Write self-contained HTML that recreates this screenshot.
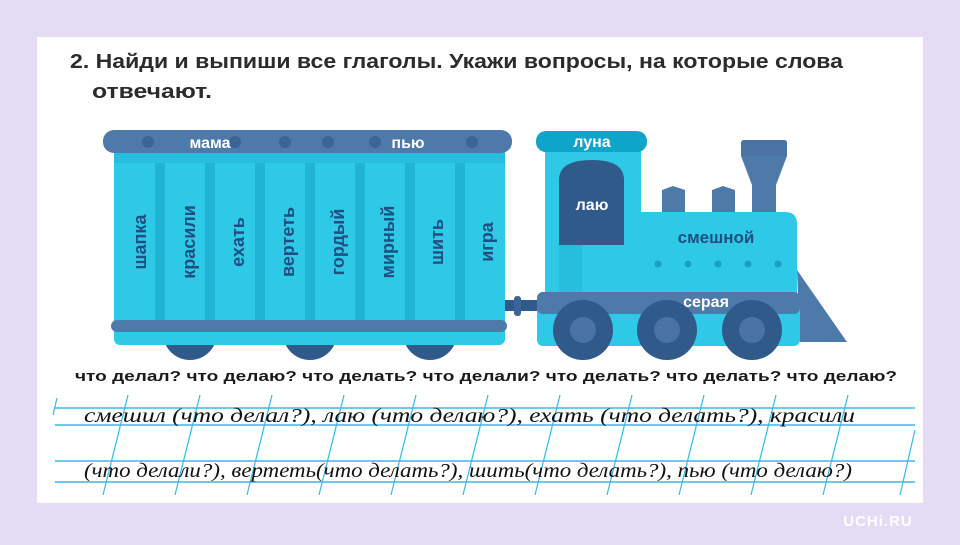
<!DOCTYPE html>
<html><head><meta charset="utf-8"><style>
body{margin:0;width:960px;height:540px;background:#e3dcf4;overflow:hidden;font-family:"Liberation Sans",sans-serif}
</style></head><body>
<svg width="960" height="540" viewBox="0 0 960 540" xmlns="http://www.w3.org/2000/svg" font-family="Liberation Sans, DejaVu Sans, sans-serif">
<rect x="37" y="37" width="886" height="466" fill="#fff"/>
<text x="70" y="68" font-size="20" font-weight="bold" fill="#2b2b2b" textLength="773" lengthAdjust="spacingAndGlyphs">2. Найди и выпиши все глаголы. Укажи вопросы, на которые слова</text>
<text x="92" y="98" font-size="20" font-weight="bold" fill="#2b2b2b" textLength="120" lengthAdjust="spacingAndGlyphs">отвечают.</text>
<!-- wagon -->
<g fill="#2f5a8a"><circle cx="190" cy="333" r="27"/><circle cx="310" cy="333" r="27"/><circle cx="430" cy="333" r="27"/></g>
<rect x="114" y="145" width="391" height="200" rx="6" fill="#2ec9e6"/>
<rect x="114" y="153" width="391" height="10" fill="#27bedd"/>
<g fill="#1fb3d4">
<rect x="155" y="163" width="10" height="157"/><rect x="205" y="163" width="10" height="157"/><rect x="255" y="163" width="10" height="157"/><rect x="305" y="163" width="10" height="157"/><rect x="355" y="163" width="10" height="157"/><rect x="405" y="163" width="10" height="157"/><rect x="455" y="163" width="10" height="157"/>
</g>
<rect x="103" y="130" width="409" height="23" rx="11" fill="#4e7aaa"/>
<g fill="#3a6595"><circle cx="148" cy="142" r="6"/><circle cx="285" cy="142" r="6"/><circle cx="328" cy="142" r="6"/><circle cx="375" cy="142" r="6"/><circle cx="472" cy="142" r="6"/><circle cx="235" cy="142" r="6"/></g>
<text x="210" y="148" font-size="16" font-weight="bold" fill="#fff" text-anchor="middle">мама</text>
<text x="408" y="148" font-size="16" font-weight="bold" fill="#fff" text-anchor="middle">пью</text>
<rect x="111" y="320" width="396" height="12" rx="6" fill="#4e7aaa"/>
<g font-size="18" font-weight="bold" fill="#1f4e80" text-anchor="middle">
<text transform="translate(146,242) rotate(-90)">шапка</text>
<text transform="translate(195,242) rotate(-90)">красили</text>
<text transform="translate(244,242) rotate(-90)">ехать</text>
<text transform="translate(294,242) rotate(-90)">вертеть</text>
<text transform="translate(344,242) rotate(-90)">гордый</text>
<text transform="translate(394,242) rotate(-90)">мирный</text>
<text transform="translate(443,242) rotate(-90)">шить</text>
<text transform="translate(493,242) rotate(-90)">игра</text>
</g>
<!-- coupling -->
<rect x="505" y="300" width="34" height="11" fill="#2f5a8a"/>
<rect x="514" y="296" width="7" height="20" rx="3" fill="#3a6595"/>
<!-- loco -->
<rect x="545" y="150" width="96" height="150" fill="#2ec9e6"/>
<rect x="559" y="245" width="23" height="50" fill="#27bedd"/>
<path d="M559 245 V180 Q559 160 592 160 Q624 160 624 180 V245 Z" fill="#2f5a8a"/>
<text x="592" y="210" font-size="16" font-weight="bold" fill="#fff" text-anchor="middle">лаю</text>
<rect x="536" y="131" width="111" height="21" rx="10" fill="#0fa4c9"/>
<text x="592" y="147" font-size="16" font-weight="bold" fill="#fff" text-anchor="middle">луна</text>
<path d="M662 212 V190 L673 186 L685 190 V212 Z M712 212 V190 L723 186 L735 190 V212 Z" fill="#4e7aaa"/>
<path d="M741 143 Q741 140 745 140 H784 Q787 140 787 143 V156 L776 185 V212 H752 V185 L741 156 Z" fill="#4e7aaa"/>
<rect x="741" y="140" width="46" height="16" rx="3" fill="#4a73a3"/>
<path d="M641 212 H785 Q797 212 797 224 V300 H641 Z" fill="#2ec9e6"/>
<text x="716" y="243" font-size="17" font-weight="bold" fill="#1f4e80" text-anchor="middle">смешной</text>
<g fill="#1a9fc4"><circle cx="658" cy="264" r="3.5"/><circle cx="688" cy="264" r="3.5"/><circle cx="718" cy="264" r="3.5"/><circle cx="748" cy="264" r="3.5"/><circle cx="778" cy="264" r="3.5"/></g>
<path d="M797 270 L847 342 H800 Z" fill="#4e7aaa"/>
<rect x="537" y="300" width="263" height="46" rx="6" fill="#2ec9e6"/>
<rect x="537" y="292" width="263" height="22" rx="6" fill="#4e7aaa"/>
<text x="706" y="307" font-size="16" font-weight="bold" fill="#fff" text-anchor="middle">серая</text>
<g fill="#2f5a8a"><circle cx="583" cy="330" r="30"/><circle cx="667" cy="330" r="30"/><circle cx="752" cy="330" r="30"/></g>
<g fill="#4a73a3"><circle cx="583" cy="330" r="13"/><circle cx="667" cy="330" r="13"/><circle cx="752" cy="330" r="13"/></g>
<text x="75" y="381" font-size="15" font-weight="bold" fill="#1a1a1a" textLength="822" lengthAdjust="spacingAndGlyphs">что делал? что делаю? что делать? что делали? что делать? что делать? что делаю?</text>
<!-- lines -->
<g stroke="#3bb8e6" stroke-width="1.5">
<line x1="55" y1="408" x2="915" y2="408"/><line x1="55" y1="425" x2="915" y2="425"/>
<line x1="55" y1="461" x2="915" y2="461"/><line x1="55" y1="482" x2="915" y2="482"/>
</g>
<g stroke="#3bb8e6" stroke-width="1.2">
<line x1="57" y1="398" x2="53" y2="415"/>
<line x1="128" y1="395" x2="103" y2="495"/><line x1="200" y1="395" x2="175" y2="495"/><line x1="272" y1="395" x2="247" y2="495"/><line x1="344" y1="395" x2="319" y2="495"/><line x1="416" y1="395" x2="391" y2="495"/><line x1="488" y1="395" x2="463" y2="495"/><line x1="560" y1="395" x2="535" y2="495"/><line x1="632" y1="395" x2="607" y2="495"/><line x1="704" y1="395" x2="679" y2="495"/><line x1="776" y1="395" x2="751" y2="495"/><line x1="848" y1="395" x2="823" y2="495"/><line x1="915" y1="430" x2="900" y2="495"/>
</g>
<g font-family="Liberation Serif, serif" font-style="italic" font-size="20" fill="#111">
<text x="84" y="422" textLength="771" lengthAdjust="spacingAndGlyphs">смешил (что делал?), лаю (что делаю?), ехать (что делать?), красили</text>
<text x="84" y="477" textLength="768" lengthAdjust="spacingAndGlyphs">(что делали?), вертеть(что делать?), шить(что делать?), пью (что делаю?)</text>
</g>
<text x="878" y="526" font-size="15" font-weight="bold" fill="#fff" text-anchor="middle" letter-spacing="1">UCHi.RU</text>
</svg>
</body></html>
